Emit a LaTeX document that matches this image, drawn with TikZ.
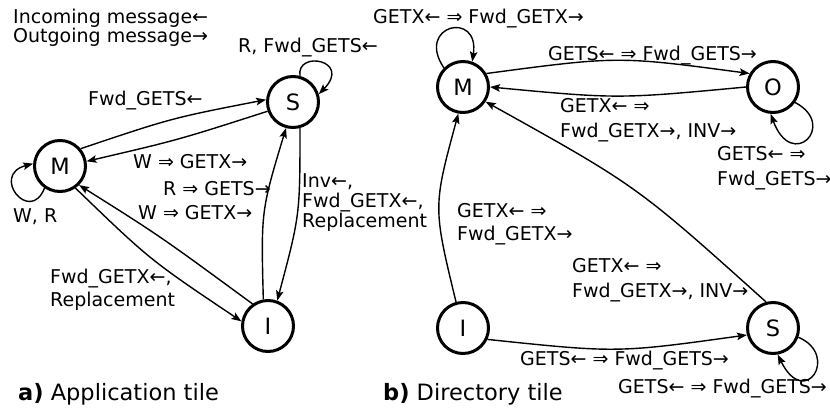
\documentclass[tikz,border=0pt]{standalone}
\usepackage{fontspec}
\setmainfont{DejaVu Sans}
\usetikzlibrary{arrows.meta}
\begin{document}
\begin{tikzpicture}[x=1pt,y=-1pt,
  state/.style={circle,draw,line width=3pt,minimum size=51pt,inner sep=0pt,
    font=\fontsize{22.5}{24}\selectfont},
  edge/.style={line width=1.4pt,-{Stealth[length=10pt,width=7.5pt,inset=2pt]}},
  lbl/.style={inner sep=0pt,anchor=base west,align=left,
    font=\fontsize{19}{23}\selectfont},
  wide/.style={font=\fontsize{19}{25}\selectfont},
  caption/.style={inner sep=0pt,anchor=base west,font=\fontsize{22.5}{24}\selectfont},
]
\useasboundingbox (0,0) rectangle (830,410);

% ---------------- a) Application tile ----------------
% (multi-line labels are placed by the baseline of their last line)
\node[lbl,font=\fontsize{19}{19}\selectfont] (legend) at (13,42.5)
  {Incoming message←\\Outgoing message→};

\node[state] (aM) at (60,166) {M};
\node[state] (aS) at (293,102) {S};
\node[state] (aI) at (268,326) {I};

\draw[edge] (aM.40) .. controls (172,118) .. (aS.175);
\draw[edge] (aS.200) .. controls (178,140) .. (aM.10);
\draw[edge] (aI.100) .. controls (261,211) .. (aS.255);
\draw[edge] (aS.285) .. controls (300,215) .. (aI.70);
\draw[edge] (aI.125) .. controls (160,236) .. (aM.-45);
\draw[edge] (aM.-55) .. controls (150,260) .. (aI.170);
\draw[edge] (aM.235) .. controls (30,225) and (-10,175) .. (aM.175);
\draw[edge] (aS.75) .. controls (296,50) and (352,60) .. (aS.17);

\node[lbl] (aSS) at (238,52) {R, Fwd\_GETS←};
\node[lbl] (aMS) at (88,105) {Fwd\_GETS←};
\node[lbl] (aSM) at (133,168) {W ⇒ GETX→};
\node[lbl] (aIS) at (163,195) {R ⇒ GETS→};
\node[lbl] (aIM) at (138,219) {W ⇒ GETX→};
\node[lbl,font=\fontsize{19}{20}\selectfont] (aSI) at (302,227) {Inv←,\\Fwd\_GETX←,\\Replacement};
\node[lbl] (aMI) at (50,306) {Fwd\_GETX←,\\Replacement};
\node[lbl] (aMM) at (13,222) {W, R};

\node[caption] (capa) at (18,400) {\textbf{a)} Application tile};

% ---------------- b) Directory tile ----------------
\node[state] (bM) at (463,87) {M};
\node[state] (bO) at (773,87) {O};
\node[state] (bI) at (463,328) {I};
\node[state] (bS) at (773,328) {S};

\draw[edge] (bM.135) .. controls (415,25) and (480,10) .. (bM.70);
\draw[edge] (bM.30) .. controls (618,56) .. (bO.150);
\draw[edge] (bO.180) .. controls (618,99) .. (bM.0);
\draw[edge] (bO.-35) .. controls (838,125) and (792,172) .. (bO.-95);
\draw[edge] (bI.105) .. controls (433,207) .. (bM.-100);
\draw[edge] (bS.105) .. controls (637,186) .. (bM.-33);
\draw[edge] (bI.-25) .. controls (617,353) .. (bS.-165);
\draw[edge] (bS.-20) .. controls (840,355) and (805,410) .. (bS.-80);

\node[lbl] (bMM) at (373,23) {GETX← ⇒ Fwd\_GETX→};
\node[lbl] (bMO) at (548,60) {GETS← ⇒ Fwd\_GETS→};
\node[lbl,wide] (bOM) at (560,137) {GETX← ⇒\\Fwd\_GETX→, INV→};
\node[lbl,wide] (bOO) at (717,185) {GETS← ⇒\\Fwd\_GETS→};
\node[lbl] (bIM) at (457,240) {GETX← ⇒\\Fwd\_GETX→};
\node[lbl,wide] (bSM) at (572,297) {GETX← ⇒\\Fwd\_GETX→, INV→};
\node[lbl] (bIS) at (520,365) {GETS← ⇒ Fwd\_GETS→};
\node[lbl] (bSS) at (618,393) {GETS← ⇒ Fwd\_GETS→};

\node[caption] (capb) at (383,400) {\textbf{b)} Directory tile};
\end{tikzpicture}
\end{document}
